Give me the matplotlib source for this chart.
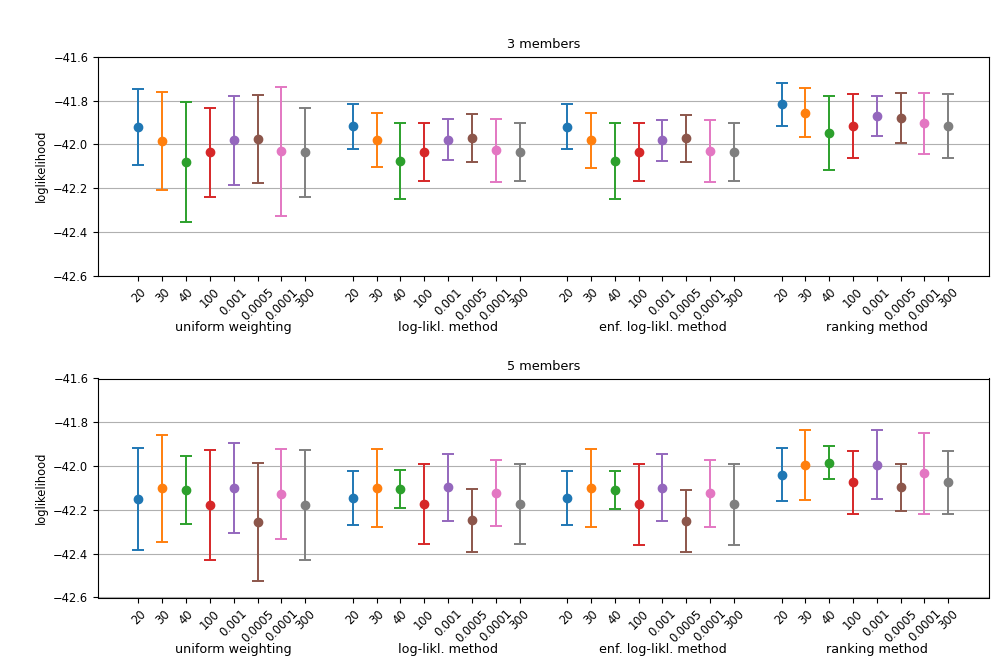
import matplotlib
matplotlib.use("Agg")
import matplotlib.pyplot as plt
import numpy as np

settings = ['20', '30', '40', '100', '0.001', '0.0005', '0.0001', '300']
methods = ['uniform weighting', 'log-likl. method', 'enf. log-likl. method', 'ranking method']
panel_titles = ['3 members', '5 members']

# 3 members: means and symmetric errors per method
m3_uniform = [-41.921, -41.985, -42.079, -42.037, -41.982, -41.975, -42.032, -42.037]
e3_uniform = [0.174, 0.225, 0.274, 0.205, 0.204, 0.200, 0.294, 0.205]
m3_loglikl = [-41.917, -41.981, -42.075, -42.034, -41.979, -41.972, -42.028, -42.034]
e3_loglikl = [0.103, 0.124, 0.173, 0.132, 0.094, 0.110, 0.142, 0.132]
m3_enf = [-41.920, -41.982, -42.076, -42.035, -41.981, -41.973, -42.031, -42.035]
e3_enf = [0.103, 0.124, 0.174, 0.134, 0.094, 0.109, 0.143, 0.133]
m3_rank = [-41.818, -41.855, -41.949, -41.917, -41.871, -41.879, -41.905, -41.917]
e3_rank = [0.099, 0.113, 0.170, 0.147, 0.091, 0.113, 0.140, 0.146]

# 5 members
m5_uniform = [-42.149, -42.102, -42.111, -42.178, -42.100, -42.255, -42.127, -42.178]
e5_uniform = [0.233, 0.245, 0.155, 0.250, 0.204, 0.270, 0.204, 0.250]
m5_loglikl = [-42.144, -42.098, -42.106, -42.173, -42.097, -42.248, -42.123, -42.173]
e5_loglikl = [0.123, 0.178, 0.087, 0.184, 0.153, 0.142, 0.151, 0.184]
m5_enf = [-42.146, -42.100, -42.109, -42.175, -42.098, -42.251, -42.124, -42.175]
e5_enf = [0.123, 0.178, 0.088, 0.185, 0.154, 0.143, 0.152, 0.185]
m5_rank = [-42.039, -41.995, -41.984, -42.074, -41.993, -42.097, -42.033, -42.074]
e5_rank = [0.122, 0.161, 0.077, 0.144, 0.158, 0.108, 0.186, 0.144]

panels = [
    ([m3_uniform, m3_loglikl, m3_enf, m3_rank], [e3_uniform, e3_loglikl, e3_enf, e3_rank]),
    ([m5_uniform, m5_loglikl, m5_enf, m5_rank], [e5_uniform, e5_loglikl, e5_enf, e5_rank]),
]

colors = ['C%d' % i for i in range(8)]

fig = plt.figure(figsize=(9.97, 6.64), dpi=100)
W, H = 997, 664
left, right = 98 / W, 988.7 / W
axes_rects = [
    [left, 1 - 275.7 / H, right - left, 219 / H],
    [left, 1 - 597.5 / H, right - left, 219 / H],
]

ngroup = len(settings) + 1
for p, ((means, errs), title) in enumerate(zip(panels, panel_titles)):
    ax = fig.add_axes(axes_rects[p])
    ax.set_axisbelow(True)
    ax.yaxis.grid(True, color='#b0b0b0', linewidth=0.8)
    xticks = []
    xlabels = []
    for g, (mg, eg) in enumerate(zip(means, errs)):
        for j in range(len(settings)):
            x = g * ngroup + j
            ax.errorbar([x], [mg[j]], yerr=[eg[j]], fmt='o', color=colors[j],
                        capsize=4.3, markersize=6, elinewidth=1.4, capthick=1.4)
            xticks.append(x)
            xlabels.append(settings[j])
        ax.annotate(methods[g], xy=(g * ngroup + 4, 0), xycoords=('data', 'axes fraction'),
                    xytext=(0, -52), textcoords='offset pixels',
                    ha='center', va='center', fontsize=9.2)
    ax.set_xticks(xticks)
    ax.set_xticklabels(xlabels, rotation=45, fontsize=8.3)
    ax.tick_params(axis='y', labelsize=8.3)
    ax.set_xlim(-1.7, 35.7)
    ax.set_ylim(-42.6, -41.6)
    ax.set_yticks(np.arange(-42.6, -41.55, 0.2))
    ax.set_ylabel('loglikelihood', fontsize=8.3)
    ax.set_title(title, fontsize=9.3)

fig.savefig('out.png', dpi=100)
